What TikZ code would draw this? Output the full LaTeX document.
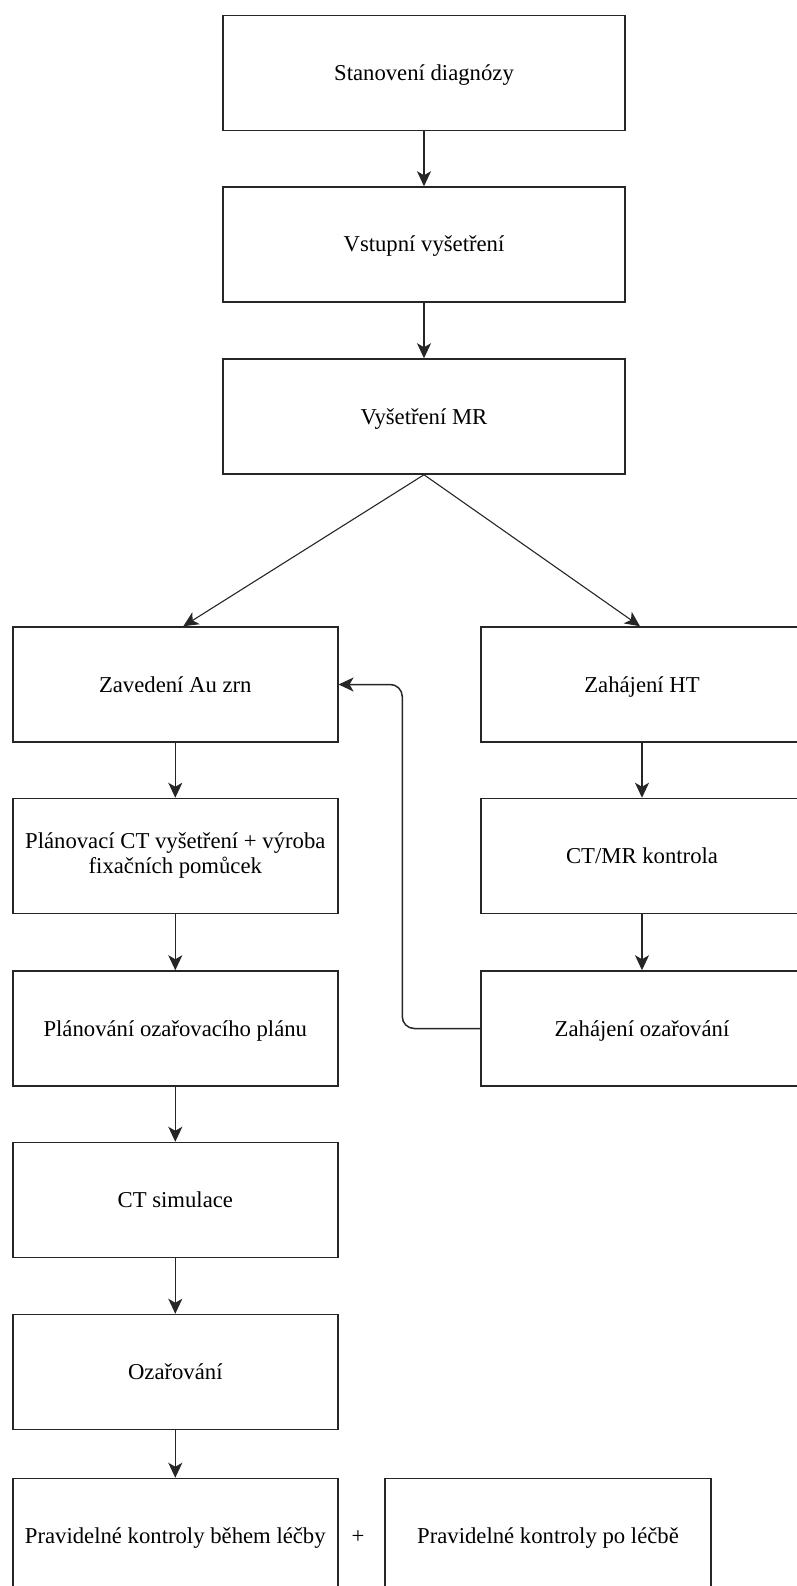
\documentclass[tikz,border=0pt]{standalone}
\usepackage{fontspec}
\setmainfont{Liberation Serif}
\usetikzlibrary{arrows.meta,calc}

\begin{document}
\begin{tikzpicture}[x=1pt,y=-1pt,
  box/.style={draw=black!85,line width=1.5pt,rectangle,inner sep=2pt,
    minimum height=115pt,align=center,
    font=\fontsize{22.7}{25}\selectfont},
  oneline/.style={text height=15pt,text depth=0pt},
  wide/.style={box,oneline,minimum width=402pt},
  col/.style={box,oneline,minimum width=325pt},
  col2/.style={box,minimum width=325pt},
  flow/.style={draw=black!85,line width=1.5pt,
    -{Stealth[length=15pt,width=14pt,inset=4pt]}},
  thin/.style={flow,line width=1.1pt}
]
\useasboundingbox (0,0) rectangle (797,1586);
\clip (0,0) rectangle (797,1586);

% main chain at the top
\node[wide] (diag) at (424,73)    {Stanovení diagnózy};
\node[wide] (vstup) at (424,244.5) {Vstupní vyšetření};
\node[wide] (mr) at (424,416.5)   {Vyšetření MR};

% left column
\node[col]  (zav)  at (175.3,684.5)  {Zavedení Au zrn};
\node[col2] (plct) at (175.3,856)    {Plánovací CT vyšetření + výroba\\fixačních pomůcek};
\node[col]  (plan) at (175.3,1028.5) {Plánování ozařovacího plánu};
\node[col]  (sim)  at (175.3,1200)   {CT simulace};
\node[col]  (oza)  at (175.3,1372)   {Ozařování};
\node[col]  (kbeh) at (175.3,1536)   {Pravidelné kontroly během léčby};

% right column
\node[col,minimum width=322pt] (ht)   at (642,684.5)  {Zahájení HT};
\node[col,minimum width=322pt] (ctmr) at (642,856)    {CT/MR kontrola};
\node[col,minimum width=322pt] (zoz)  at (642,1028.5) {Zahájení ozařování};

% follow-up after treatment
\node[col,minimum width=326pt] (kpo) at (548,1536) {Pravidelné kontroly po léčbě};
\node[font=\fontsize{22.7}{25}\selectfont,oneline] (plus) at (358,1536) {+};

% connectors
\draw[flow] (diag) -- (vstup);
\draw[flow] (vstup) -- (mr);
\draw[thin] (mr.south) -- ([xshift=8pt]zav.north);
\draw[thin] (mr.south) -- ([xshift=-2pt]ht.north);
\draw[flow] (zav) -- (plct);
\draw[flow] (plct) -- (plan);
\draw[flow] (plan) -- (sim);
\draw[flow] (sim) -- (oza);
\draw[flow] (oza) -- (kbeh);
\draw[flow] (ht) -- (ctmr);
\draw[flow] (ctmr) -- (zoz);
\draw[flow,rounded corners=12pt] (zoz.west) -- ++(-78,0) |- (zav.east);
\end{tikzpicture}
\end{document}
